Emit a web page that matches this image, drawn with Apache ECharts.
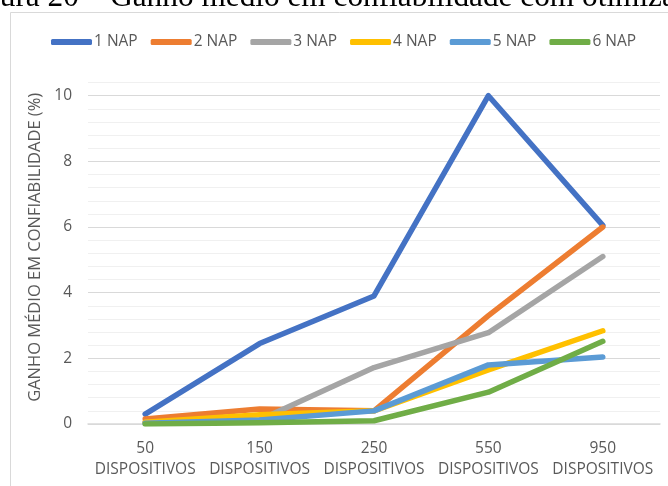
<!DOCTYPE html>
<html>
<head>
<meta charset="utf-8">
<script src="https://cdn.jsdelivr.net/npm/echarts@6/dist/echarts.min.js"></script>
<style>
html,body{margin:0;padding:0;background:#fff;}
#c{width:668px;height:486px;}
</style>
</head>
<body>
<div id="c"></div>
<script>
const categories = ['50\nDISPOSITIVOS', '150\nDISPOSITIVOS', '250\nDISPOSITIVOS', '550\nDISPOSITIVOS', '950\nDISPOSITIVOS'];
const seriesNames = ['1 NAP', '2 NAP', '3 NAP', '4 NAP', '5 NAP', '6 NAP'];
const nap1 = [0.30, 2.45, 3.90, 10.00, 6.05];
const nap2 = [0.15, 0.46, 0.40, 3.30, 6.00];
const nap3 = [0.05, 0.12, 1.72, 2.78, 5.10];
const nap4 = [0.05, 0.28, 0.40, 1.65, 2.84];
const nap5 = [0.02, 0.12, 0.40, 1.80, 2.04];
const nap6 = [0.00, 0.04, 0.10, 0.97, 2.52];
const colors = ['#4472C4', '#ED7D31', '#A5A5A5', '#FFC000', '#5B9BD5', '#70AD47'];
const yTicks = [0, 2, 4, 6, 8, 10];
const titleText = 'Figura 20 – Ganho médio em confiabilidade com otimização';
const yAxisTitle = 'GANHO MÉDIO EM CONFIABILIDADE (%)';

const allData = [nap1, nap2, nap3, nap4, nap5, nap6];
const font = 'Open Sans';
const chart = echarts.init(document.getElementById('c'), null, {renderer: 'canvas'});
chart.setOption({
  animation: false,
  backgroundColor: '#fff',
  color: colors,
  graphic: [
    {type: 'rect', shape: {x: 10.5, y: 12.5, width: 700, height: 500}, style: {fill: 'none', stroke: '#d9d9d9', lineWidth: 1}, z: -10},
    {type: 'text', left: -42, top: -18, style: {text: titleText, font: '31.3px "Liberation Serif"', fill: '#000'}}
  ],
  legend: {
    top: 29, left: 46,
    itemWidth: 41, itemHeight: 6, itemGap: 13,
    icon: 'roundRect',
    textStyle: {fontFamily: font, fontSize: 15.5, color: '#595959', padding: [0, 0, 0, -3]},
    data: seriesNames
  },
  grid: {left: 88, right: 8, top: 82.6, bottom: 62},
  xAxis: {
    type: 'category', data: categories, boundaryGap: true,
    axisLine: {lineStyle: {color: '#d9d9d9', width: 1.5}},
    axisTick: {show: false},
    axisLabel: {fontFamily: font, fontSize: 15.5, color: '#595959', lineHeight: 21, margin: 14, interval: 0}
  },
  yAxis: {
    type: 'value', min: 0, max: 10.4, interval: 0.4,
    name: yAxisTitle, nameLocation: 'middle', nameGap: 44,
    nameTextStyle: {fontFamily: font, fontSize: 16.5, color: '#595959', padding: [0, 0, 0, 12]},
    axisLine: {show: false}, axisTick: {show: false},
    axisLabel: {fontFamily: font, fontSize: 15.5, color: '#595959', margin: 16,
      formatter: v => { const r = Math.round(v); return (Math.abs(v - r) < 1e-6 && yTicks.includes(r)) ? String(r) : ''; }},
    splitLine: {lineStyle: {color: ['#d9d9d9', '#f0f0f0', '#f0f0f0', '#f0f0f0', '#f0f0f0'], width: 1}}
  },
  series: seriesNames.map((n, i) => ({
    name: n, type: 'line', data: allData[i],
    symbol: 'none', smooth: false,
    lineStyle: {width: 5.5, cap: 'round', join: 'round', color: colors[i]}
  }))
});
</script>
</body>
</html>
